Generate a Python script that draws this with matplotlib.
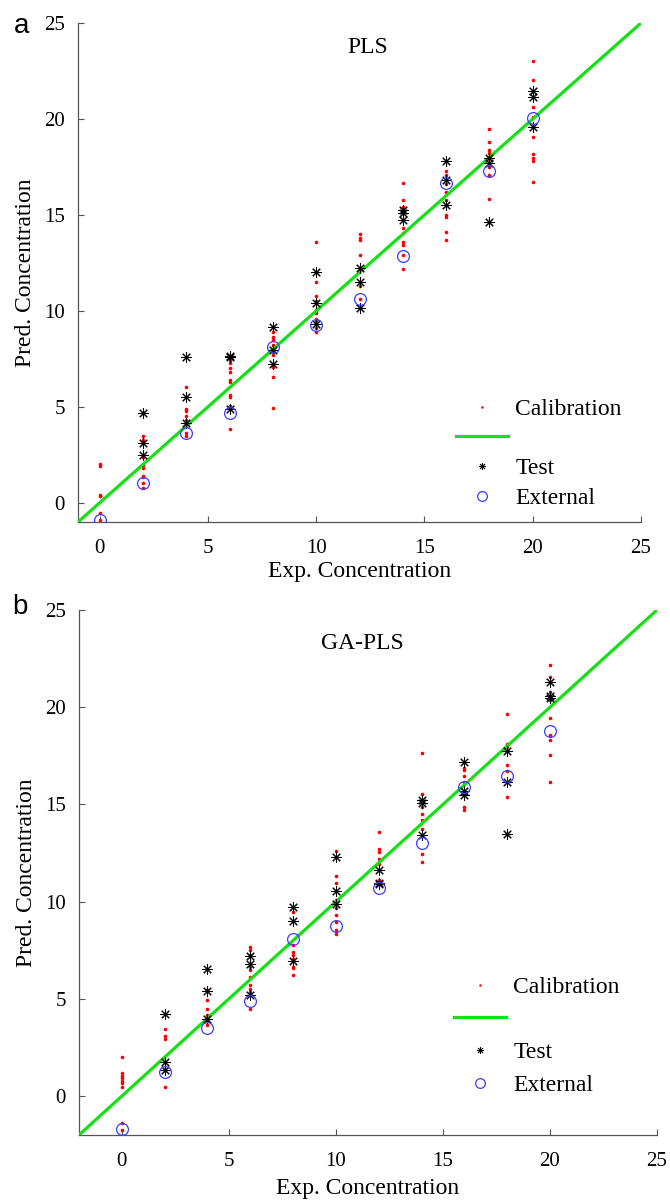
import numpy as np
import matplotlib.pyplot as plt
from matplotlib.lines import Line2D

plt.rcParams['font.family'] = ['Liberation Serif', 'DejaVu Serif']

# concentration levels
levels = [0, 2, 4, 6, 8, 10, 12, 14, 16, 18, 20]

# PLS predictions (per level)
pls_cal = [
    [2.01, 1.93, 0.42, 0.33, -0.54, -0.89],
    [3.5, 3.26, 2.4, 1.96, 1.8, 1.42, 1.34, 1.02, 0.76],
    [6.06, 5.53, 4.88, 4.76, 4.5, 4.33, 4.07, 3.64, 3.5],
    [7.6, 7.45, 7.3, 7.05, 6.8, 6.4, 6.3, 5.6, 5.5, 5.06, 3.84],
    [8.9, 8.66, 8.5, 8.2, 7.7, 7.1, 6.55, 4.96],
    [13.61, 11.5, 10.76, 10.5, 10.07, 9.9, 9.6, 9.4, 9.1, 8.9],
    [13.99, 13.8, 13.67, 12.9, 12.2, 11.3, 10.6],
    [16.65, 15.78, 15.4, 14.3, 14.05, 13.6, 13.45, 12.9, 12.17],
    [17.3, 17.1, 16.6, 16.2, 15.8, 15.0, 14.9, 14.1, 13.7],
    [19.46, 18.8, 18.4, 18.25, 18.0, 17.5, 17.1, 15.83],
    [23.04, 22.03, 20.6, 20.1, 19.6, 19.06, 18.2, 17.98, 17.8, 16.74],
]
pls_test = [
    [],
    [4.70, 3.11, 2.5],
    [7.62, 5.50, 4.15],
    [7.65, 7.6, 4.88],
    [9.15, 7.97, 7.24],
    [12.01, 10.43, 9.32],
    [12.22, 11.49, 10.14],
    [15.26, 15.1, 14.74],
    [17.83, 16.82, 15.52],
    [17.95, 17.7, 14.65],
    [21.46, 21.17, 19.56],
]
pls_ext = [-0.9, 1.02, 3.64, 4.70, 8.14, 9.27, 10.64, 12.86, 16.65, 17.31, 20.03]

# GA-PLS predictions (per level)
ga_cal = [
    [2.02, 1.17, 1.03, 0.91, 0.77, 0.65, 0.48, -1.4, -1.75],
    [3.43, 3.08, 2.96, 1.76, 1.34, 0.45],
    [5.45, 4.93, 4.5, 4.16, 3.9, 3.65],
    [7.67, 7.5, 7.25, 6.65, 6.47, 6.13, 5.7, 5.53, 5.36, 4.46],
    [9.48, 7.76, 7.42, 7.25, 7.03, 6.65, 6.6, 6.22],
    [12.6, 11.3, 10.97, 10.08, 9.65, 9.3, 8.98, 8.55, 8.36],
    [13.59, 12.72, 12.55, 12.2, 11.95, 11.1],
    [17.65, 15.56, 14.87, 14.53, 14.19, 13.76, 12.47, 12.04],
    [16.9, 16.76, 16.45, 16.16, 14.87, 14.7],
    [19.67, 18.1, 17.96, 17.02, 16.73, 15.39],
    [22.16, 21.56, 20.8, 20.36, 19.43, 18.58, 18.29, 17.55, 16.13],
]
ga_test = [
    [],
    [4.2, 1.76, 1.34],
    [6.56, 5.42, 3.99],
    [7.2, 6.82, 5.19],
    [9.73, 9.0, 6.94],
    [12.3, 10.56, 9.87],
    [11.65, 10.97, 10.9],
    [15.22, 15.1, 13.42],
    [17.19, 15.7, 15.48],
    [17.75, 16.16, 13.47],
    [21.3, 20.57, 20.5],
]
ga_ext = [-1.7, 1.25, 3.48, 4.88, 8.1, 8.74, 10.68, 13.02, 15.9, 16.45, 18.77]


def flatten(groups):
    xs, ys = [], []
    for lv, vals in zip(levels, groups):
        xs += [lv] * len(vals)
        ys += vals
    return xs, ys


green = '#14e014'
blue = '#3b3bff'


def panel(ax, cal, test, ext, lo, title, title_pos, tag, tag_pos, leg_anchor, leg_sp, xlpad):
    cx, cy = flatten(cal)
    tx, tyv = flatten(test)
    ax.plot(cx, cy, 'o', color='red', ms=2.6, mew=0, zorder=2)
    ax.plot([lo, 25], [lo, 25], '-', color=green, lw=2.3, zorder=3)
    ax.plot(tx, tyv, ls='none', marker=(8, 2, 0), color='black', ms=7.5, mew=0.75, zorder=4)
    ax.plot(levels, ext, 'o', mfc='none', mec=blue, ms=8.5, mew=0.9, zorder=5)

    ax.set_xlim(lo, 25)
    ax.set_ylim(lo, 25)
    ax.set_xticks([0, 5, 10, 15, 20, 25])
    ax.set_yticks([0, 5, 10, 15, 20, 25])
    for s in ['top', 'right']:
        ax.spines[s].set_visible(False)
    for s in ['left', 'bottom']:
        ax.spines[s].set_color('#555555')
        ax.spines[s].set_linewidth(0.9)
    ax.tick_params(direction='in', length=4, width=0.8, color='#555555', labelsize=15)
    ax.tick_params(axis='x', pad=12.5)
    ax.tick_params(axis='y', pad=9.5)
    ax.set_xlabel('Exp. Concentration', fontsize=17, labelpad=xlpad)
    ax.set_ylabel('Pred. Concentration', fontsize=17, labelpad=6)
    ax.text(title_pos[0], title_pos[1], title, transform=ax.transAxes,
            ha='center', va='center', fontsize=17)
    ax.text(tag_pos[0], tag_pos[1], tag, transform=ax.transAxes, ha='center', va='center',
            fontsize=20, family='Liberation Sans')

    handles = [
        Line2D([], [], ls='none', marker='o', color='red', ms=1.8, mew=0),
        Line2D([], [], color=green, lw=2.3),
        Line2D([], [], ls='none', marker=(8, 2, 0), color='black', ms=5, mew=0.6),
        Line2D([], [], ls='none', marker='o', mfc='none', mec=blue, ms=7, mew=0.9),
    ]
    ax.legend(handles, ['Calibration', ' ', 'Test', 'External'], loc='upper left',
              bbox_to_anchor=leg_anchor, frameon=False, fontsize=17,
              handlelength=2.2, handletextpad=0.3, labelspacing=leg_sp,
              borderpad=0, borderaxespad=0)


fig = plt.figure(figsize=(6.7, 12), dpi=100)
ax1 = fig.add_axes([78 / 670, 1 - 522 / 1200, 563 / 670, 499 / 1200])
ax2 = fig.add_axes([79 / 670, 1 - 1135 / 1200, 578 / 670, 525 / 1200])

panel(ax1, pls_cal, pls_test, pls_ext, -1, 'PLS', (0.515, 0.95), 'a', (-0.101, 0.994),
      (0.672, 0.248), 0.35, 2)
panel(ax2, ga_cal, ga_test, ga_ext, -2, 'GA-PLS', (0.491, 0.937), 'b', (-0.102, 1.006),
      (0.649, 0.302), 0.47, 5)

fig.savefig('out.png', dpi=100)
